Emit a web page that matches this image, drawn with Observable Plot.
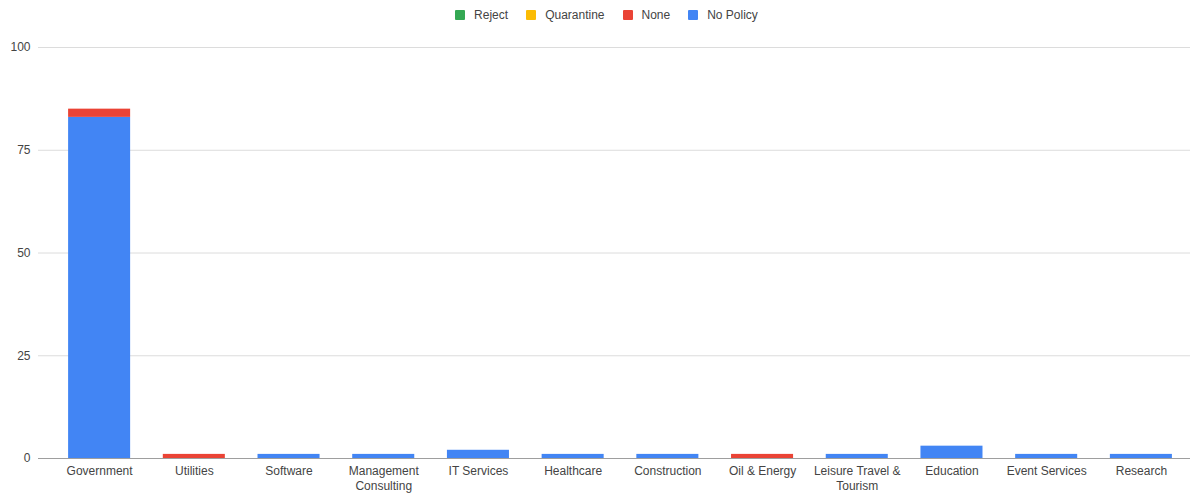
<!DOCTYPE html>
<html>
<head>
<meta charset="utf-8">
<script src="https://cdn.jsdelivr.net/npm/d3@7"></script>
<script src="https://cdn.jsdelivr.net/npm/@observablehq/plot@0.6"></script>
<style>
  body { margin: 0; background: #fff; font-family: "Liberation Sans", Arial, sans-serif; }
  #legend { height: 30px; display: flex; justify-content: center; align-items: center; font-size: 12px; color: #444; padding-left: 17px; }
  #legend .item { display: flex; align-items: center; margin: 0 9px; }
  #legend .sw { width: 10px; height: 10px; margin-right: 9px; border-radius: 1px; }
</style>
</head>
<body>
<div id="legend"></div>
<div id="chart"></div>
<script>
// Industries along the x axis
const categories = ["Government", "Utilities", "Software", "Management Consulting", "IT Services",
  "Healthcare", "Construction", "Oil & Energy", "Leisure Travel & Tourism", "Education",
  "Event Services", "Research"];
// Axis labels (wrapped onto two lines where needed)
const tickLabels = ["Government", "Utilities", "Software", "Management\nConsulting", "IT Services",
  "Healthcare", "Construction", "Oil & Energy", "Leisure Travel &\nTourism", "Education",
  "Event Services", "Research"];

// Counts per policy
const reject     = [0, 0, 0, 0, 0, 0, 0, 0, 0, 0, 0, 0];
const quarantine = [0, 0, 0, 0, 0, 0, 0, 0, 0, 0, 0, 0];
const none       = [2, 1, 0, 0, 0, 0, 0, 1, 0, 0, 0, 0];
const noPolicy   = [83, 0, 1, 1, 2, 1, 1, 0, 1, 3, 1, 1];

const seriesNames = ["Reject", "Quarantine", "None", "No Policy"];
const seriesColors = ["#34a853", "#fbbc04", "#ea4335", "#4285f4"];
const yTicks = [0, 25, 50, 75, 100];

// Long table, bottom-to-top stacking order: No Policy, None, Quarantine, Reject
const seriesData = {"Reject": reject, "Quarantine": quarantine, "None": none, "No Policy": noPolicy};
const stackOrder = ["No Policy", "None", "Quarantine", "Reject"];
const rows = [];
for (const s of stackOrder) {
  categories.forEach((c, i) => rows.push({category: c, series: s, value: seriesData[s][i]}));
}

// Legend
const legend = d3.select("#legend");
seriesNames.forEach((name, i) => {
  const item = legend.append("div").attr("class", "item");
  item.append("div").attr("class", "sw").style("background", seriesColors[i]);
  item.append("span").text(name);
});

const labelOf = new Map(categories.map((c, i) => [c, tickLabels[i]]));

const chart = Plot.plot({
  width: 1196,
  height: 463,
  marginLeft: 38,
  marginRight: 6,
  marginTop: 17,
  marginBottom: 35,
  style: {fontFamily: "Liberation Sans, Arial, sans-serif", fontSize: "12px", color: "#444"},
  x: {domain: categories, insetLeft: 14, insetRight: 2, paddingInner: 0.345, paddingOuter: 0.17, round: false, label: null},
  y: {domain: [0, 100], label: null},
  color: {domain: seriesNames, range: seriesColors},
  marks: [
    Plot.ruleY(yTicks.filter(d => d > 0), {stroke: "#dcdcdc", strokeWidth: 1}),
    Plot.barY(rows, Plot.stackY({order: stackOrder}, {x: "category", y: "value", fill: "series"})),
    Plot.ruleY([0], {stroke: "#9e9e9e", strokeWidth: 1.2}),
    Plot.axisY({ticks: yTicks, tickSize: 0, tickPadding: 8, label: null, fill: "#444"}),
    Plot.axisX({tickSize: 0, tickPadding: 6, label: null, fill: "#444", lineHeight: 1.25,
      tickFormat: d => labelOf.get(d)})
  ]
});
document.getElementById("chart").appendChild(chart);
</script>
</body>
</html>
